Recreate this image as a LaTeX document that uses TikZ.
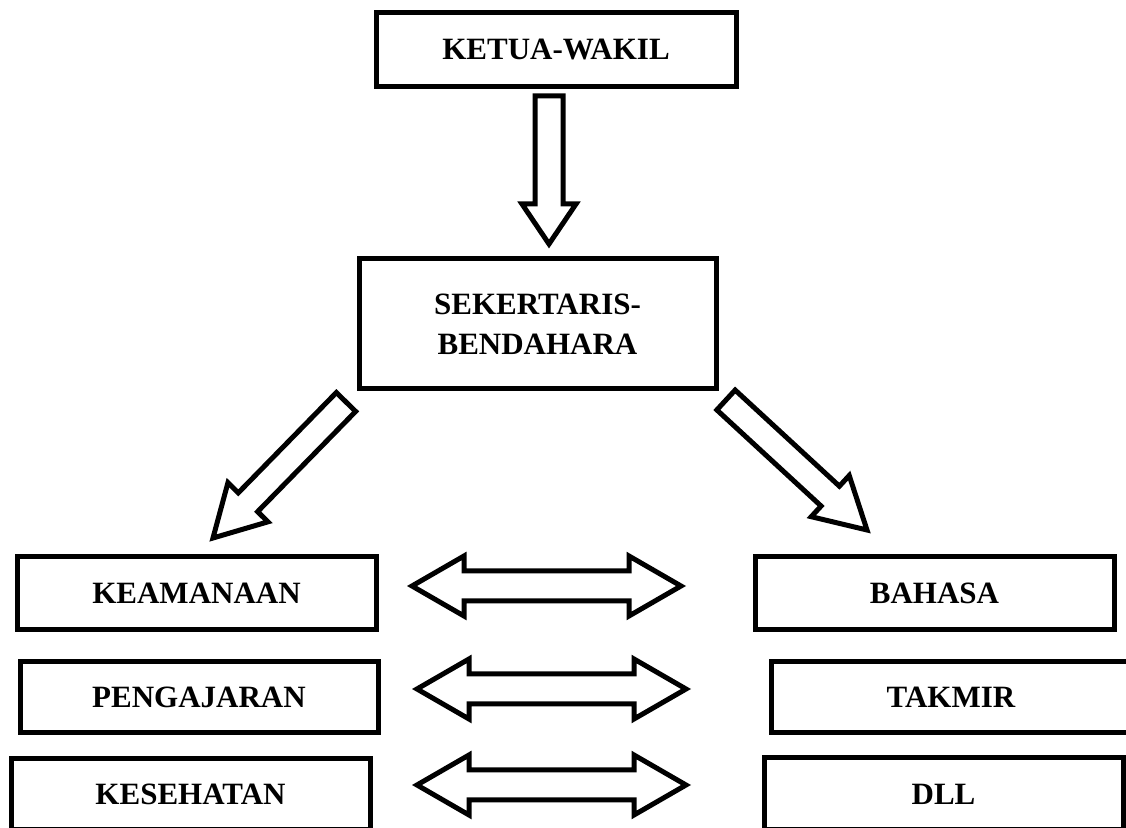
\documentclass[tikz,border=0pt]{standalone}
\usepackage{fontspec}
\setmainfont{Liberation Serif}
\usetikzlibrary{calc}
\tikzset{
  box/.style={draw=black, line width=2.5pt, fill=white, inner sep=0pt, align=center,
    font=\fontsize{15.5}{20}\selectfont\bfseries},
  barrow/.style={draw=black, line width=2.5pt, fill=white, line join=miter}
}
\newcommand\blockarr[5]{%
  \coordinate (ba-b) at ($(#2)!#5!(#1)$);
  \draw[barrow] ($(#1)!#3!90:(#2)$) -- ($(ba-b)!#3!90:(#2)$) -- ($(ba-b)!#4!90:(#2)$) -- (#2)
    -- ($(ba-b)!#4!-90:(#2)$) -- ($(ba-b)!#3!-90:(#2)$) -- ($(#1)!#3!-90:(#2)$) -- cycle;
}
\newcommand\dblarr[5]{%
  \coordinate (da-a) at ($(#1)!#5!(#2)$);
  \coordinate (da-b) at ($(#2)!#5!(#1)$);
  \draw[barrow] (#1) -- ($(da-a)!#4!90:(#2)$) -- ($(da-a)!#3!90:(#2)$) -- ($(da-b)!#3!90:(#2)$)
    -- ($(da-b)!#4!90:(#2)$) -- (#2) -- ($(da-b)!#4!-90:(#2)$) -- ($(da-b)!#3!-90:(#2)$)
    -- ($(da-a)!#3!-90:(#2)$) -- ($(da-a)!#4!-90:(#2)$) -- cycle;
}
\begin{document}
\begin{tikzpicture}[x=0.5pt,y=-0.5pt]
\useasboundingbox (0,0) rectangle (1126,828);
\clip (0,0) rectangle (1126,828);
\fill[white] (0,0) rectangle (1126,828);

% boxes
\node[box, minimum width=180pt, minimum height=37pt] (ketua) at (556,49.5) {KETUA-WAKIL};
\node[box, minimum width=178.5pt, minimum height=65pt] (sek) at (537.5,324) {SEKERTARIS-\\BENDAHARA};
\node[box, minimum width=179.5pt, minimum height=36.5pt] (keam) at (196.5,593.5) {KEAMANAAN};
\node[box, minimum width=179pt, minimum height=35.5pt] (peng) at (199,697.5) {PENGAJARAN};
\node[box, minimum width=179.5pt, minimum height=35.5pt] (kes) at (190.5,794.5) {KESEHATAN};
\node[box, minimum width=179.5pt, minimum height=36.5pt] (bahasa) at (934.5,593.5) {BAHASA};
\node[box, minimum width=180pt, minimum height=35.5pt] (takmir) at (951,697.5) {TAKMIR};
\node[box, minimum width=179.5pt, minimum height=36pt] (dll) at (943.5,794) {DLL};

% arrow end points
\coordinate (a1s) at (549,96);
\coordinate (a1e) at (549,244);
\coordinate (a2s) at (346,402);
\coordinate (a2e) at (213,538);
\coordinate (a3s) at (726,400);
\coordinate (a3e) at (867,530);
\coordinate (r1a) at (412,586);
\coordinate (r1b) at (681,586);
\coordinate (r2a) at (417,689);
\coordinate (r2b) at (686,689);
\coordinate (r3a) at (417,785);
\coordinate (r3b) at (686,785);

\blockarr{a1s}{a1e}{7pt}{13.5pt}{20pt}
\blockarr{a2s}{a2e}{6.75pt}{14pt}{25pt}
\blockarr{a3s}{a3e}{6.75pt}{14pt}{25pt}
\dblarr{r1a}{r1b}{7.5pt}{15pt}{26pt}
\dblarr{r2a}{r2b}{7.5pt}{15pt}{26pt}
\dblarr{r3a}{r3b}{7.5pt}{15pt}{26pt}
\end{tikzpicture}
\end{document}
